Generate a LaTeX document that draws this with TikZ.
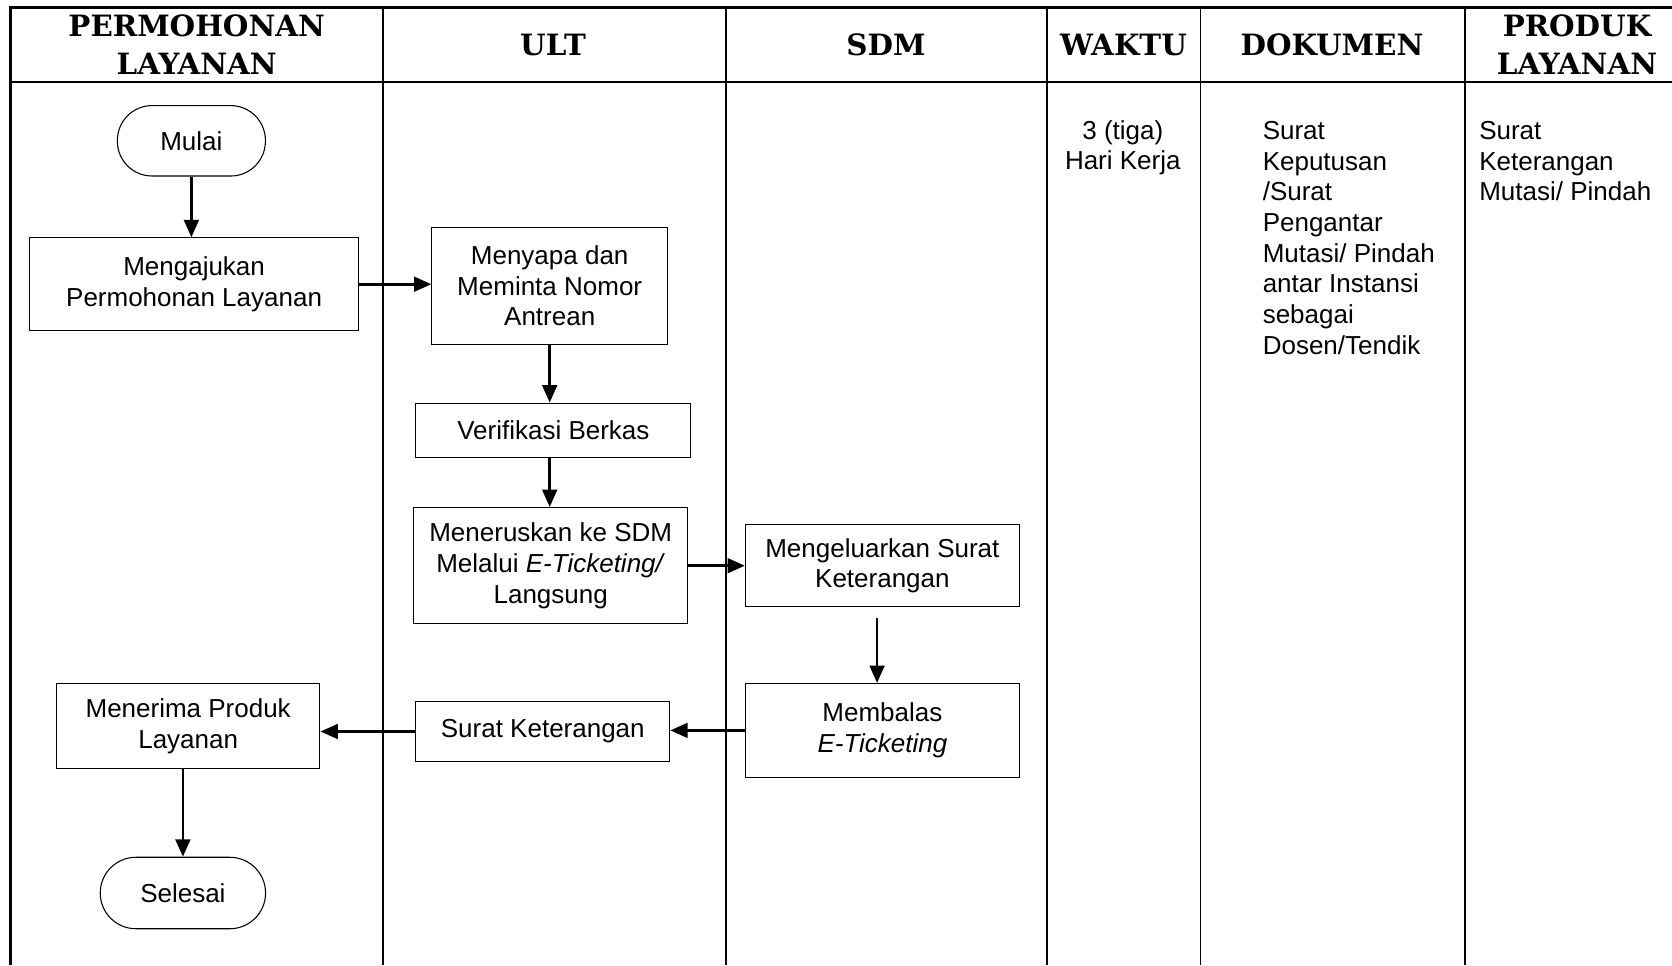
\documentclass[tikz,border=0pt]{standalone}
\usepackage{fontspec}
\setmainfont{Liberation Sans}
\newfontfamily\headfont{DejaVu Serif}
\usepackage{tikz}
\usetikzlibrary{arrows.meta, positioning, calc}

\begin{document}
\begin{tikzpicture}[x=0.75pt, y=-0.75pt,
    proc/.style={draw=black, line width=0.8pt, align=center, inner sep=0pt, font=\fontsize{19.5}{23}\selectfont},
    term/.style={proc, rounded corners=26pt},
    flow/.style={-{Triangle[length=13pt, width=11pt]}, line width=2pt},
    head/.style={align=center, font=\headfont\bfseries\fontsize{22}{28}\selectfont},
    info/.style={inner sep=0pt, font=\fontsize{19.5}{23}\selectfont}]
    \useasboundingbox (0, 0) rectangle (1672, 965);

    % Frame & lanes
    \draw[line width=2.2pt] (10.7, 965) -- (10.7, 7.5) -- (1672, 7.5);
    \draw[line width=2.2pt] (10.7, 82) -- (1672, 82);
    \draw[line width=1.3pt] (382.8, 7.5) -- (382.8, 965);
    \draw[line width=1.3pt] (726.2, 7.5) -- (726.2, 965);
    \draw[line width=1.3pt] (1047.1, 7.5) -- (1047.1, 965);
    \draw[line width=1.3pt] (1200.6, 7.5) -- (1200.6, 965);
    \draw[line width=1.3pt] (1465.1, 7.5) -- (1465.1, 965);

    % Header
    \node[head] (hPemohon) at (196.7, 44.7) {PERMOHONAN\\LAYANAN};
    \node[head] (hUlt) at (553, 44.7) {ULT};
    \node[head] (hSdm) at (886, 44.7) {SDM};
    \node[head] (hWaktu) at (1123.5, 44.7) {WAKTU};
    \node[head] (hDokumen) at (1332, 44.7) {DOKUMEN};
    \node[head] (hProduk) at (1577, 44.7) {PRODUK\\LAYANAN};

    % Steps
    \node[term, minimum width=111pt, minimum height=52.8pt] (mulai) at (191.4, 140.8) {Mulai};
    \node[proc, minimum width=246.3pt, minimum height=69.6pt] (ajukan) at (194.1, 284.2) {Mengajukan\\Permohonan Layanan};
    \node[proc, minimum width=176.7pt, minimum height=88pt] (sapa) at (549.7, 285.8) {Menyapa dan\\Meminta Nomor\\Antrean};
    \node[proc, minimum width=206.3pt, minimum height=40.8pt] (verif) at (553.4, 430.3) {Verifikasi Berkas};
    \node[proc, minimum width=205.5pt, minimum height=87.2pt] (terus) at (550.7, 565.7) {Meneruskan ke SDM\\Melalui \textit{E-Ticketing/}\\Langsung};
    \node[proc, minimum width=205.5pt, minimum height=61.6pt] (keluar) at (882.4, 565.7) {Mengeluarkan Surat\\Keterangan};
    \node[proc, minimum width=205.5pt, minimum height=70.4pt] (balas) at (882.4, 730.4) {Membalas\\\textit{E-Ticketing}};
    \node[proc, minimum width=190.4pt, minimum height=44.8pt] (suket) at (542.8, 731.5) {Surat Keterangan};
    \node[proc, minimum width=197.6pt, minimum height=64pt] (terima) at (188.2, 726.2) {Menerima Produk\\Layanan};
    \node[term, minimum width=124pt, minimum height=53.6pt, rounded corners=26.8pt] (selesai) at (182.9, 893) {Selesai};

    % Flow
    \draw[flow] (mulai.south) -- (mulai.south |- ajukan.north);
    \draw[flow] (ajukan.east) -- (ajukan.east -| sapa.west);
    \draw[flow] (sapa.south) -- (sapa.south |- verif.north);
    \draw[flow] (verif.south -| sapa.south) -- (sapa.south |- terus.north);
    \draw[flow] (terus.east) -- (terus.east -| keluar.west);
    \draw[flow, shorten <=8pt] ([xshift=-4pt]keluar.south) -- ([xshift=-4pt]balas.north);
    \draw[flow] (balas.west) -- (balas.west -| suket.east);
    \draw[flow] (suket.west) -- (suket.west -| terima.east);
    \draw[flow] (selesai.north |- terima.south) -- (selesai.north);

    % Waktu, dokumen, produk
    \node[info, anchor=north, align=center] (waktu) at (1122.8, 120) {3 (tiga)\\Hari Kerja};
    \node[info, anchor=north west, align=left] (dokumen) at (1262.5, 121) {Surat\\Keputusan\\/Surat\\Pengantar\\Mutasi/ Pindah\\antar Instansi\\sebagai\\Dosen/Tendik};
    \node[info, anchor=north west, align=left] (produk) at (1479, 121) {Surat\\Keterangan\\Mutasi/ Pindah};
\end{tikzpicture}
\end{document}
